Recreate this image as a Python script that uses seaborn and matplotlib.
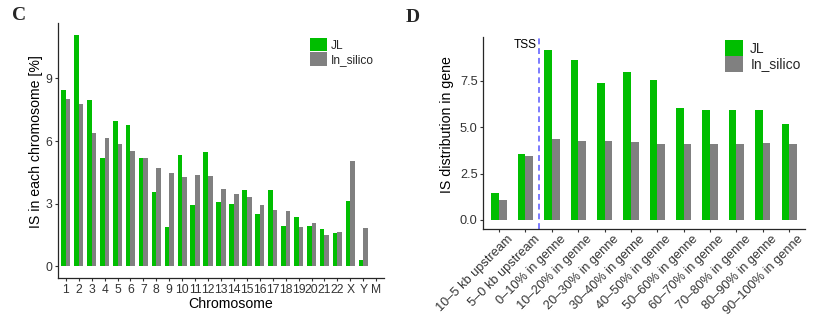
import matplotlib
matplotlib.use("Agg")
import matplotlib.pyplot as plt
import matplotlib.transforms as mtransforms
import seaborn as sns
import pandas as pd
from matplotlib.patches import Patch

# ---- data ----
chromosomes = [str(i) for i in range(1, 23)] + ["X", "Y", "M"]
chrom_jl = [8.45, 11.1, 7.97, 5.17, 6.97, 6.79, 5.17, 3.55, 1.91, 5.35, 2.96, 5.49,
            3.10, 2.97, 3.67, 2.51, 3.67, 1.92, 2.37, 1.92, 1.79, 1.61, 3.11, 0.30, 0.02]
chrom_silico = [8.03, 7.78, 6.40, 6.17, 5.87, 5.53, 5.20, 4.71, 4.46, 4.30, 4.36, 4.33,
                3.72, 3.48, 3.32, 2.94, 2.72, 2.64, 1.89, 2.09, 1.52, 1.66, 5.07, 1.84, 0.02]

gene_regions = ["10\u20135 kb upstream", "5\u20130 kb upstream",
                "0\u201310% in genne", "10\u201320% in genne", "20\u201330% in genne",
                "30\u201340% in genne", "40\u201350% in genne", "50\u201360% in genne",
                "60\u201370% in genne", "70\u201380% in genne", "80\u201390% in genne",
                "90\u2013100% in genne"]
gene_jl = [1.47, 3.57, 9.17, 8.62, 7.38, 7.99, 7.54, 6.05, 5.92, 5.92, 5.92, 5.18]
gene_silico = [1.08, 3.42, 4.37, 4.26, 4.23, 4.20, 4.10, 4.10, 4.08, 4.10, 4.15, 4.08]

series = ["JL", "In_silico"]
colors = {"JL": "#00BE00", "In_silico": "#808080"}

# ---- style ----
sns.set_theme(style="ticks")
plt.rcParams["font.family"] = ["Liberation Sans", "DejaVu Sans"]
plt.rcParams["axes.linewidth"] = 0.9

W, H = 830, 326
fig = plt.figure(figsize=(W / 100, H / 100), dpi=100)


def ax_rect(l, t, r, b):
    return [l / W, 1 - b / H, (r - l) / W, (b - t) / H]


tick_col = "#333333"

# ---- panel C ----
dfc = pd.DataFrame({
    "chrom": chromosomes * 2,
    "value": chrom_jl + chrom_silico,
    "series": ["JL"] * len(chromosomes) + ["In_silico"] * len(chromosomes),
})
axc = fig.add_axes(ax_rect(58, 23, 384, 278))
sns.barplot(data=dfc, x="chrom", y="value", hue="series", hue_order=series,
            palette=colors, width=0.72, gap=0, ax=axc, legend=False,
            saturation=1, linewidth=0, errorbar=None)
axc.set_xlim(-0.6, len(chromosomes) - 0.4)
axc.set_ylim(-0.555, 11.655)
axc.set_yticks([0, 3, 6, 9])
axc.tick_params(axis="both", labelsize=8.7, colors="#333333", labelcolor=tick_col,
                length=2.5, width=0.8, pad=1.5)
sns.despine(ax=axc)
axc.set_xlabel("Chromosome", fontsize=10.2, color="black")
axc.set_ylabel("IS in each chromosome [%]", fontsize=10.2, color="black")
axc.xaxis.set_label_coords(0.53, -0.075)
axc.yaxis.set_label_coords(-0.045, 0.535)

fig.legend(handles=[Patch(facecolor=colors[s], edgecolor="none") for s in series],
           labels=series, loc="upper left",
           bbox_to_anchor=(310 / W, 1 - 38 / H), frameon=False, fontsize=8.6,
           borderpad=0, borderaxespad=0, handlelength=1.4, handleheight=1.35,
           handletextpad=0.35, labelspacing=0.05)

# ---- panel D ----
dfd = pd.DataFrame({
    "region": gene_regions * 2,
    "value": gene_jl + gene_silico,
    "series": ["JL"] * len(gene_regions) + ["In_silico"] * len(gene_regions),
})
axd = fig.add_axes(ax_rect(483.3, 36.7, 805, 228.7))
sns.barplot(data=dfd, x="region", y="value", hue="series", hue_order=series,
            palette=colors, width=0.58, gap=0, ax=axd, legend=False,
            saturation=1, linewidth=0, errorbar=None)
axd.set_xlim(-0.6, len(gene_regions) - 0.4)
axd.set_ylim(-0.47, 9.87)
axd.set_yticks([0, 2.5, 5.0, 7.5])
axd.set_yticklabels(["0.0", "2.5", "5.0", "7.5"])
axd.axvline(1.5, color="#7B7BFF", linestyle=(0, (3, 2)), linewidth=1.4)
axd.text(1.42, 9.4, "TSS", ha="right", va="center", fontsize=8.6, color="black")
axd.tick_params(axis="both", labelsize=9.2, colors="#333333", labelcolor=tick_col,
                length=2.5, width=0.8, pad=1.5)
offset = mtransforms.ScaledTranslation(8 / 100, 1 / 100, fig.dpi_scale_trans)
for lab in axd.get_xticklabels():
    lab.set_rotation(45)
    lab.set_ha("right")
    lab.set_va("top")
    lab.set_rotation_mode("anchor")
    lab.set_transform(lab.get_transform() + offset)
sns.despine(ax=axd)
axd.set_xlabel("")
axd.set_ylabel("IS distribution in gene", fontsize=10.2, color="black")
axd.yaxis.set_label_coords(-0.09, 0.54)

fig.legend(handles=[Patch(facecolor=colors[s], edgecolor="none") for s in series],
           labels=series, loc="upper left",
           bbox_to_anchor=(725 / W, 1 - 40 / H), frameon=False, fontsize=10,
           borderpad=0, borderaxespad=0, handlelength=1.32, handleheight=1.37,
           handletextpad=0.5, labelspacing=0.0)

# panel letters
fig.text(12 / W, 1 - 7 / H, "C", fontsize=14, fontweight="bold", ha="left", va="top",
         family=["Liberation Serif", "DejaVu Serif"])
fig.text(406 / W, 1 - 9 / H, "D", fontsize=14, fontweight="bold", ha="left", va="top",
         family=["Liberation Serif", "DejaVu Serif"])

fig.savefig("out.png", dpi=100)
